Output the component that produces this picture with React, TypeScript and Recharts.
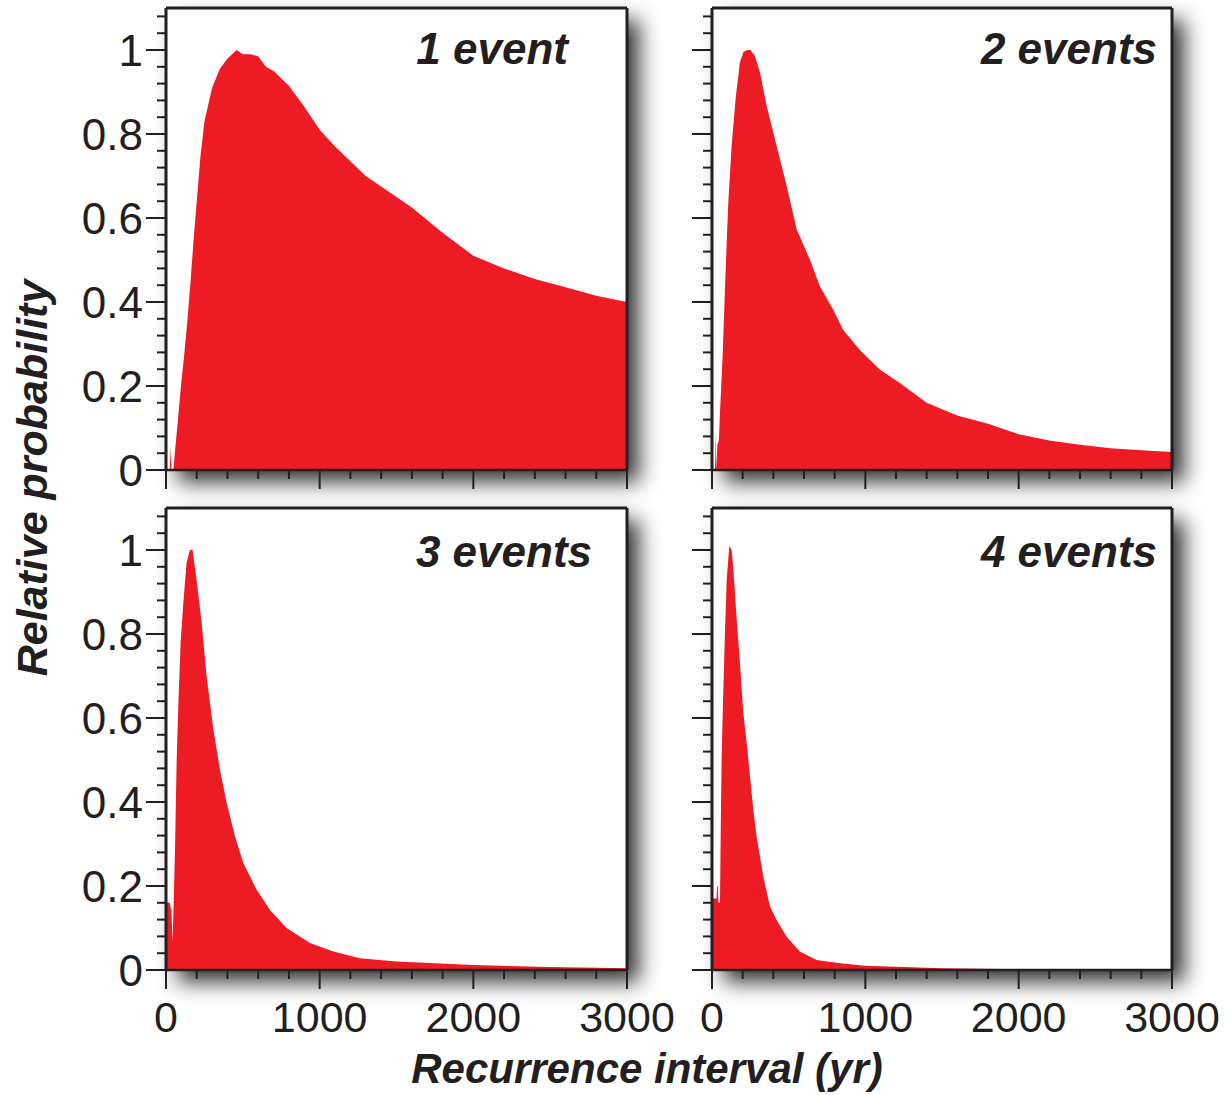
import { AreaChart, Area, XAxis, YAxis } from 'recharts'

const INK = '#231f20'
const RED = '#ed1c24'
const FONT = '"Liberation Sans", Arial, Helvetica, sans-serif'

// recurrence interval (yr) / relative probability
const oneEventYears = [0, 25, 30, 35, 48, 60, 80, 100, 120, 140, 160, 180, 200, 225, 250, 275, 300, 350, 400, 460, 500, 550, 600, 650, 700, 800, 900, 1000, 1100, 1200, 1300, 1400, 1500, 1600, 1800, 2000, 2200, 2400, 2600, 2800, 3000]
const oneEventProb = [0, 0, 0.055, 0, 0, 0.05, 0.13, 0.21, 0.28, 0.36, 0.45, 0.55, 0.64, 0.75, 0.83, 0.87, 0.91, 0.955, 0.98, 1.0, 0.99, 0.99, 0.985, 0.96, 0.95, 0.915, 0.865, 0.81, 0.77, 0.735, 0.7, 0.675, 0.65, 0.625, 0.565, 0.51, 0.48, 0.455, 0.435, 0.415, 0.4]

const twoEventYears = [0, 20, 24, 28, 35, 45, 52, 60, 70, 85, 106, 128, 156, 182, 205, 230, 250, 280, 313, 356, 421, 487, 552, 638, 704, 790, 855, 964, 1094, 1225, 1400, 1600, 1800, 2000, 2200, 2400, 2600, 2800, 3000]
const twoEventProb = [0, 0, 0.09, 0, 0.06, 0.07, 0.135, 0.2, 0.278, 0.437, 0.636, 0.772, 0.891, 0.97, 0.995, 1.0, 1.0, 0.986, 0.947, 0.867, 0.772, 0.676, 0.573, 0.501, 0.437, 0.382, 0.334, 0.286, 0.239, 0.207, 0.16, 0.13, 0.11, 0.085, 0.07, 0.06, 0.052, 0.047, 0.043]

const threeEventYears = [0, 25, 35, 43, 50, 59, 69, 80, 95, 113, 134, 156, 173, 199, 232, 264, 308, 351, 395, 449, 503, 590, 677, 785, 937, 1089, 1262, 1500, 2000, 2500, 3000]
const threeEventProb = [0.16, 0.16, 0.14, 0.068, 0.163, 0.294, 0.493, 0.628, 0.78, 0.875, 0.97, 1.0, 1.0, 0.93, 0.827, 0.7, 0.573, 0.477, 0.398, 0.318, 0.255, 0.191, 0.143, 0.1, 0.064, 0.044, 0.028, 0.02, 0.012, 0.007, 0.004]

const fourEventYears = [0, 30, 33, 38, 42, 52, 57, 63, 74, 85, 96, 113, 128, 139, 161, 182, 204, 226, 248, 269, 291, 313, 334, 378, 421, 487, 573, 682, 834, 1000, 1500, 2000, 3000]
const fourEventProb = [0.17, 0.17, 0.2, 0.2, 0.16, 0.16, 0.334, 0.509, 0.668, 0.811, 0.93, 1.01, 1.0, 0.955, 0.835, 0.732, 0.613, 0.541, 0.461, 0.382, 0.318, 0.27, 0.223, 0.151, 0.119, 0.079, 0.044, 0.024, 0.016, 0.01, 0.004, 0.002, 0.002]

const panelTitles = ['1 event', '2 events', '3 events', '4 events']

const yTicks = Array.from({ length: 28 }, (_, i) => +(i * 0.04).toFixed(2))
const xTicks = Array.from({ length: 16 }, (_, i) => i * 200)

const isMajor = (v: number, step: number) => Math.abs(v / step - Math.round(v / step)) < 1e-6
const fmtY = (v: number) => (v === 0 ? '0' : v === 1 ? '1' : v.toFixed(1))

function YTick({ x, y, payload, showLabel }: any) {
  const v = payload.value
  const major = isMajor(v, 0.2)
  const len = major ? 20 : 9
  return (
    <g>
      <line x1={x - len} x2={x} y1={y} y2={y} stroke={INK} strokeWidth={2} />
      {major && showLabel && (
        <text x={x - len - 3} y={y} dy="0.36em" textAnchor="end" fontSize={44} fontFamily={FONT} fill={INK}>
          {fmtY(v)}
        </text>
      )}
    </g>
  )
}

function XTick({ x, y, payload, showLabel }: any) {
  const v = payload.value
  const major = isMajor(v, 1000)
  const len = major ? 19 : 9
  return (
    <g>
      <line x1={x} x2={x} y1={y} y2={y + len} stroke={INK} strokeWidth={2} />
      {major && showLabel && (
        <text x={x} y={y + 62} textAnchor="middle" fontSize={43} fontFamily={FONT} fill={INK}>
          {v}
        </text>
      )}
    </g>
  )
}

type Box = { top: number; right: number; bottom: number; left: number }

type PanelProps = {
  years: number[]
  prob: number[]
  left: number
  top: number
  width: number
  height: number
  frame: Box // distance from the chart edges to the plot frame
  yAxisWidth: number
  showX: boolean
  showY: boolean
}

function Panel({ years, prob, left, top, width, height, frame, yAxisWidth, showX, showY }: PanelProps) {
  const data = years.map((x, i) => ({ x, p: prob[i] }))
  const xAxisHeight = 20
  // axes take room out of the margins so the plot lands on the frame
  const margin = {
    top: frame.top - 1,
    right: frame.right - 1,
    bottom: frame.bottom - xAxisHeight,
    left: frame.left - yAxisWidth,
  }
  return (
    <>
      <div
        style={{
          position: 'absolute',
          left: left + frame.left,
          top: top + frame.top,
          width: width - frame.left - frame.right,
          height: height - frame.top - frame.bottom,
          background: '#fff',
          boxShadow: '12px 12px 20px rgba(0,0,0,0.8)',
        }}
      />
      <div style={{ position: 'absolute', left, top }}>
        <AreaChart width={width} height={height} data={data} margin={margin}>
          <XAxis
            dataKey="x"
            type="number"
            domain={[0, 3000]}
            ticks={xTicks}
            interval={0}
            height={xAxisHeight}
            tickSize={0}
            tickMargin={0}
            tickLine={false}
            axisLine={{ stroke: INK, strokeWidth: 2.5 }}
            tick={(props: any) => <XTick {...props} showLabel={showX} />}
          />
          <XAxis xAxisId="top" orientation="top" type="number" domain={[0, 3000]} height={1} tick={false} tickLine={false} axisLine={{ stroke: INK, strokeWidth: 3 }} />
          <YAxis
            type="number"
            domain={[0, 1.1]}
            ticks={yTicks}
            interval={0}
            width={yAxisWidth}
            tickSize={0}
            tickMargin={0}
            tickLine={false}
            allowDataOverflow
            axisLine={{ stroke: INK, strokeWidth: 3 }}
            tick={(props: any) => <YTick {...props} showLabel={showY} />}
          />
          <YAxis yAxisId="right" orientation="right" type="number" domain={[0, 1.1]} width={1} tick={false} tickLine={false} axisLine={{ stroke: INK, strokeWidth: 3 }} />
          <Area
            type="linear"
            dataKey="p"
            stroke="none"
            fill={RED}
            fillOpacity={1}
            isAnimationActive={false}
            dot={false}
            activeDot={false}
          />
        </AreaChart>
      </div>
    </>
  )
}

export default function App() {
  return (
    <div style={{ position: 'relative', width: 1226, height: 1095, background: '#fff', overflow: 'hidden', fontFamily: FONT }}>
      <style>{'body{margin:0}'}</style>
      <Panel years={oneEventYears} prob={oneEventProb} left={0} top={0} width={700} height={500} frame={{ top: 8, right: 73, bottom: 30, left: 166 }} yAxisWidth={60} showX={false} showY />
      <Panel years={twoEventYears} prob={twoEventProb} left={660} top={0} width={566} height={500} frame={{ top: 8, right: 54, bottom: 30, left: 52 }} yAxisWidth={30} showX={false} showY={false} />
      <Panel years={threeEventYears} prob={threeEventProb} left={0} top={500} width={700} height={595} frame={{ top: 8, right: 73, bottom: 125, left: 166 }} yAxisWidth={60} showX showY />
      <Panel years={fourEventYears} prob={fourEventProb} left={660} top={500} width={566} height={595} frame={{ top: 8, right: 54, bottom: 125, left: 52 }} yAxisWidth={30} showX showY={false} />
      <svg width={1226} height={1095} style={{ position: 'absolute', left: 0, top: 0, pointerEvents: 'none' }}>
        <g fontFamily={FONT} fontWeight="bold" fontStyle="italic" fill={INK} fontSize={44}>
          <text x={568} y={64} textAnchor="end">{panelTitles[0]}</text>
          <text x={1157} y={64} textAnchor="end">{panelTitles[1]}</text>
          <text x={592} y={567} textAnchor="end">{panelTitles[2]}</text>
          <text x={1157} y={567} textAnchor="end">{panelTitles[3]}</text>
          <text x={647} y={1083} textAnchor="middle" fontSize={42}>Recurrence interval (yr)</text>
          <text x={0} y={0} textAnchor="middle" fontSize={43} transform="translate(47 478) rotate(-90)">Relative probability</text>
        </g>
      </svg>
    </div>
  )
}
